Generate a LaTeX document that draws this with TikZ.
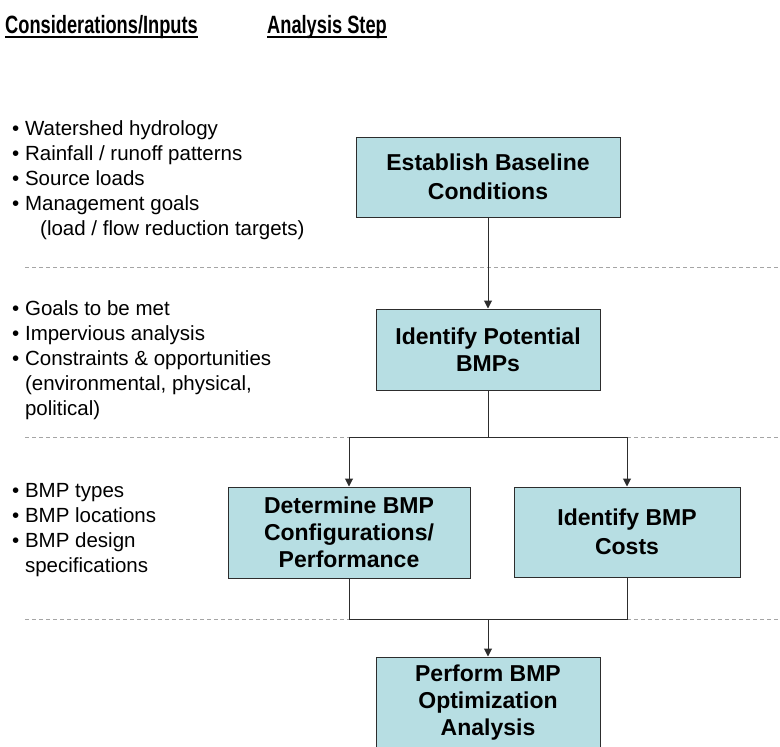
\documentclass[tikz,border=0pt]{standalone}
\usepackage{fontspec}
\setmainfont{Liberation Sans}
\newfontfamily\headfont[FakeStretch=0.73]{Liberation Sans}
\usepackage{xcolor}
\usepackage{tikz}
\usetikzlibrary{arrows.meta}

\definecolor{stepfill}{RGB}{183,222,227}
\definecolor{stepline}{RGB}{45,45,45}
\definecolor{sepgray}{RGB}{165,165,165}
\newcommand{\ind}{\phantom{• }}

\tikzset{
  stepbox/.style={draw=stepline, fill=stepfill, line width=1pt, align=center, inner sep=0pt,
    font=\bfseries\fontsize{23}{27}\selectfont},
  twoline/.style={font=\bfseries\fontsize{23}{29}\selectfont},
  inputs/.style={anchor=base west, align=left, inner sep=0pt, font=\fontsize{20.5}{25}\selectfont},
  heading/.style={anchor=base west, inner sep=0pt, font=\headfont\bfseries\fontsize{25}{30}\selectfont},
  flow/.style={draw=stepline, line width=1pt},
  stepto/.style={flow, -{Triangle[width=8pt, length=8pt]}},
  sep/.style={draw=sepgray, line width=0.8pt, dash pattern=on 4pt off 3pt}
}

\begin{document}
\begin{tikzpicture}[x=1pt, y=-1pt]
  \useasboundingbox (0,0) rectangle (780,747);
  \clip (0,0) rectangle (780,747);

  \node[heading] (hinputs) at (5,33) {Considerations/Inputs};
  \node[heading] (hstep) at (267,33) {Analysis Step};
  \draw[line width=2.2pt] ([yshift=-4pt]hinputs.base west) -- ([yshift=-4pt]hinputs.base east);
  \draw[line width=2.2pt] ([yshift=-4pt]hstep.base west) -- ([yshift=-4pt]hstep.base east);

  \foreach \y in {267,437,619}
    \draw[sep] (25,\y) -- (780,\y);

  % base anchor sits on the last line
  \node[inputs] (in1) at (12,235) {• Watershed hydrology\\
    • Rainfall / runoff patterns\\
    • Source loads\\
    • Management goals\\
    \hspace*{28pt}(load / flow reduction targets)};

  \node[inputs] (in2) at (12,415) {• Goals to be met\\
    • Impervious analysis\\
    • Constraints \& opportunities\\
    \ind(environmental, physical,\\
    \ind political)};

  \node[inputs] (in3) at (12,572) {• BMP types\\
    • BMP locations\\
    • BMP design\\
    \ind specifications};

  \node[stepbox, twoline, minimum width=264pt, minimum height=80pt] (baseline) at (488,177) {Establish Baseline\\Conditions};
  \node[stepbox, minimum width=224pt, minimum height=81pt] (potential) at (488,349.5) {Identify Potential\\BMPs};
  \node[stepbox, minimum width=242pt, minimum height=91pt] (config) at (349,532.5) {Determine BMP\\Configurations/\\Performance};
  \node[stepbox, twoline, minimum width=226pt, minimum height=90pt] (costs) at (627,532) {Identify BMP\\Costs};
  \node[stepbox, minimum width=224pt, minimum height=92pt] (optim) at (488,703) {Perform BMP\\Optimization\\Analysis};

  \coordinate (split) at (488,437);
  \coordinate (join) at (488,619);

  \draw[stepto] (baseline) -- (potential);
  \draw[flow] (potential) -- (split);
  \draw[stepto] (split) -| (config);
  \draw[stepto] (split) -| (costs);
  \draw[flow] (config) |- (join);
  \draw[flow] (costs) |- (join);
  \draw[stepto] (join) -- (optim);
\end{tikzpicture}
\end{document}
